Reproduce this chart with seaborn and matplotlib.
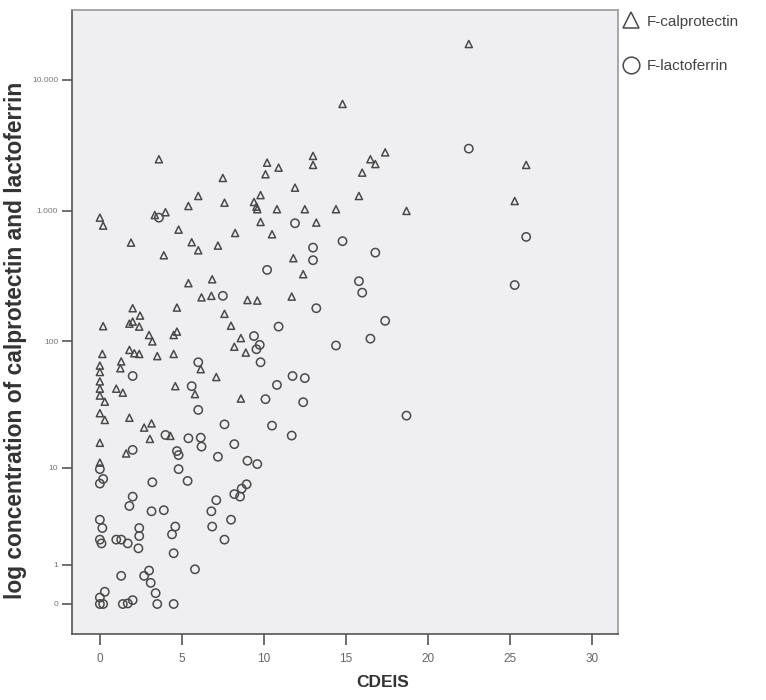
import numpy as np
import pandas as pd
import matplotlib
matplotlib.use("Agg")
import matplotlib.pyplot as plt
import seaborn as sns
from matplotlib.lines import Line2D
from matplotlib import font_manager

# ---------------- data (CDEIS, concentration) ----------------
calpro_cdeis = [14.8, 3.6, 10.2, 10.9, 10.1, 13.0, 13.0, 16.5, 16.8, 17.4, 16.0, 15.8, 14.4, 18.7,
                26.0, 25.3, 22.5, 7.5, 11.9, 6.0, 5.4, 7.6, 9.8, 9.4, 9.55, 9.6, 10.8, 12.5, 9.8,
                13.2, 10.5, 8.25, 4.8, 5.6, 6.0, 7.2, 1.9, 3.9, 11.8, 12.4, 0.0, 0.2, 3.35, 4.0,
                5.4, 6.85, 6.2, 6.8, 9.0, 9.6, 11.7, 2.0, 4.7, 7.6, 8.0, 0.2, 2.45, 1.8, 2.0, 2.4,
                3.0, 4.7, 4.5, 8.6, 3.2, 8.2, 8.9, 0.15, 1.8, 2.1, 2.4, 3.5, 4.5, 1.3, 1.25, 0.0,
                0.0, 6.15, 7.1, 0.0, 0.0, 0.0, 0.3, 1.0, 1.4, 4.6, 5.8, 8.6, 0.0, 0.3, 1.8, 2.7,
                3.15, 3.05, 4.3, 0.0, 1.6, 0.0]
calpro_value = [6560, 2480, 2335, 2140, 1905, 2630, 2245, 2480, 2280, 2800, 1960, 1300, 1030, 1000,
                2245, 1190, 18800, 1785, 1505, 1300, 1090, 1155, 1320, 1170, 1077, 1030, 1030, 1030, 823,
                814, 663, 678, 719, 576, 500, 543, 572, 458, 435, 328, 888, 772, 930, 977,
                280, 300, 218, 224, 208, 206, 221, 180, 182, 163, 132, 131, 158, 137, 142, 130,
                112, 119, 112, 106, 100, 91, 82, 80, 86, 81, 80, 77, 80, 70, 62, 65,
                58, 61, 53, 49, 43, 38, 34, 43, 40, 45, 39, 36, 27.6, 24.4, 25.4, 21.2,
                22.9, 17.2, 18.2, 16, 13.1, 11]

lacto_cdeis = [3.6, 11.9, 13.0, 13.0, 14.8, 16.8, 10.2, 15.8, 16.0, 7.5, 13.2, 10.9, 9.4, 16.5,
               22.5, 26.0, 25.3, 17.4, 14.4, 18.7, 9.75, 9.55, 9.8, 6.0, 2.0, 11.75, 12.5, 10.8,
               10.1, 12.4, 5.6, 6.0, 7.6, 10.5, 11.7, 4.0, 5.4, 6.15, 6.2, 8.2, 2.0, 4.7, 4.8,
               7.2, 9.0, 9.6, 0.0, 0.2, 0.0, 4.8, 3.2, 5.35, 8.2, 8.55, 8.95, 8.65, 7.1, 2.0,
               1.8, 3.15, 3.9, 6.8, 8.0, 0.0, 0.15, 2.4, 4.6, 4.4, 6.85, 2.4, 7.6, 0.0, 0.1,
               1.0, 1.3, 1.7, 2.35, 4.5, 5.8, 1.3, 2.7, 3.0, 3.1, 3.4, 0.3, 0.0, 0.0, 0.2,
               1.4, 1.7, 2.0, 3.5, 4.5]
lacto_value = [888, 805, 524, 420, 587, 480, 354, 290, 237, 224, 180, 130, 110, 105,
               2990, 633, 271, 144, 93, 26.4, 94, 87, 69, 69, 54, 54, 52, 46,
               35.6, 33.7, 45, 29.3, 22.5, 22, 18.3, 18.5, 17.4, 17.6, 14.9, 15.6, 14, 13.7, 12.7,
               12.3, 11.4, 10.7, 9.7, 8.0, 7.3, 9.7, 7.5, 7.7, 5.9, 5.6, 7.2, 6.6, 5.2, 5.6,
               4.6, 4.1, 4.2, 4.1, 3.4, 3.4, 2.8, 2.8, 2.9, 2.4, 2.9, 2.3, 2.1, 2.1, 1.9,
               2.1, 2.1, 1.9, 1.66, 1.44, 0.84, 0.64, 0.64, 0.8, 0.45, 0.21, 0.24, 0.12, 0.0, 0.0,
               0.0, 0.01, 0.07, 0.0, 0.0]

y_ticks = [0, 1, 10, 100, 1000, 10000]
y_tick_labels = ["0", "1", "10", "100", "1.000", "10.000"]
x_ticks = [0, 5, 10, 15, 20, 25, 30]
series_names = ["F-calprotectin", "F-lactoferrin"]

df_c = pd.DataFrame({"CDEIS": calpro_cdeis, "conc": calpro_value})
df_l = pd.DataFrame({"CDEIS": lacto_cdeis, "conc": lacto_value})

# ---------------- figure ----------------
sns.set_style("white")
plt.rcParams["font.family"] = ["Liberation Sans", "DejaVu Sans"]
names = {f.name for f in font_manager.fontManager.ttflist}
narrow = "Liberation Sans Narrow" if "Liberation Sans Narrow" in names else "Liberation Sans"

fig = plt.figure(figsize=(7.66, 7.0), dpi=100)
ax = fig.add_axes([72 / 766, 66 / 700, 546 / 766, 624 / 700])
ax.set_facecolor("#EFEFF1")

def fwd(v):
    return np.log10(np.clip(np.asarray(v, dtype=float) + 1.0, 1e-9, None))

def inv(t):
    return 10.0 ** np.asarray(t, dtype=float) - 1.0

ax.set_yscale("function", functions=(fwd, inv))

edge = "#4a4a4a"
sns.scatterplot(data=df_l, x="CDEIS", y="conc", marker="o", s=36, facecolor="none",
                edgecolor=edge, linewidth=1.1, ax=ax, legend=False, zorder=3)
sns.scatterplot(data=df_c, x="CDEIS", y="conc", marker="^", s=26, facecolor="none",
                edgecolor=edge, linewidth=1.1, ax=ax, legend=False, zorder=3)

ax.set_xlim(-1.7, 31.6)
ax.set_ylim(inv(-0.229), inv(4.534))
ax.set_xticks(x_ticks)
ax.set_xticklabels([str(t) for t in x_ticks])
ax.set_yticks(y_ticks)
ax.set_yticklabels(y_tick_labels)
ax.minorticks_off()

ax.tick_params(axis="x", direction="out", length=8, width=1.2, color="#555555",
               labelsize=8.5, labelcolor="#666666", pad=6, bottom=True)
ax.tick_params(axis="y", direction="out", length=7, width=1.2, color="#555555",
               labelsize=6, labelcolor="#777777", pad=3, left=True)

for side in ["left", "bottom", "top", "right"]:
    ax.spines[side].set_visible(True)
    ax.spines[side].set_color("#555555")
    ax.spines[side].set_linewidth(1.2)
ax.spines["top"].set_color("#999999")
ax.spines["right"].set_color("#999999")

xl = ax.set_xlabel("CDEIS", fontsize=12.5, fontweight="bold", color="#333333",
                   family=[narrow, "DejaVu Sans"])
ax.xaxis.set_label_coords((383 - 72) / 546, (634 - 675) / 624)

yl = ax.set_ylabel("log concentration of calprotectin and lactoferrin", fontsize=12,
                   fontweight="bold", color="#333333", family=[narrow, "DejaVu Sans"])
# fit label length to about 515 px
fig.canvas.draw()
r = fig.canvas.get_renderer()
ext = yl.get_window_extent(r)
yl.set_fontsize(12 * 515.0 / ext.height)
ax.yaxis.set_label_coords((27 - 72) / 546, (634 - 340) / 624)

handles = [
    Line2D([], [], marker="^", linestyle="none", markersize=12, markerfacecolor="none",
           markeredgecolor=edge, markeredgewidth=1.1),
    Line2D([], [], marker="o", linestyle="none", markersize=12, markerfacecolor="none",
           markeredgecolor=edge, markeredgewidth=1.1),
]
leg = ax.legend(handles, series_names, loc="upper left", bbox_to_anchor=(1.0, 1.0),
                frameon=False, fontsize=11, labelspacing=2.0, handlelength=1.1,
                handletextpad=0.45, borderaxespad=0.3, borderpad=0.0)
for t in leg.get_texts():
    t.set_color("#444444")

fig.savefig("out.png", dpi=100)
